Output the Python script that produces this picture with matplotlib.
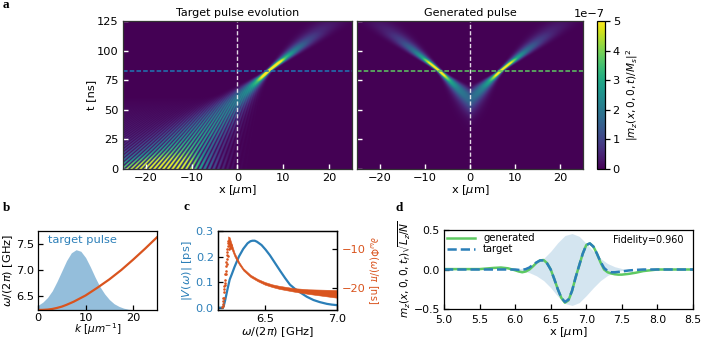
import numpy as np
import matplotlib
matplotlib.use("Agg")
import matplotlib.pyplot as plt

plt.rcParams.update({'font.family': 'DejaVu Sans', 'font.size': 8.2, 'mathtext.fontset': 'dejavusans',
                     'axes.linewidth': 0.9})

W, H = 702, 341
BLUE = '#2b7fb8'
ORANGE = '#d9541e'
GREEN = '#5ec962'

focus_x, focus_t = 6.8, 83.0
row_t = [0, 5, 10, 15, 25, 40, 50, 60, 68, 74, 78, 81, 83, 86, 90, 94, 100, 108, 116, 125]
row_peak = [6.8, 6.0, 4.6, 3.6, 3.0, 2.7, 2.5, 2.4, 2.7, 3.6, 5.5, 8.0, 9.0, 8.0, 6.0, 3.6, 2.2, 1.2, 0.6, 0.25]
row_contrast = [1.0, 1.0, 0.95, 0.95, 0.9, 0.8, 0.65, 0.35, 0.15, 0, 0, 0, 0, 0, 0, 0, 0, 0, 0, 0]
row_gate = [0, 0, 0, 0, 0.02, 0.25, 0.6, 0.85, 0.95, 1, 1, 1, 1, 1, 1, 1, 1, 1, 1, 1]

# ---- panel b
k_values = [0, 1, 2, 3, 4, 5, 6, 7.5, 10, 12.5, 15, 17.5, 20, 22.5, 25]
omega_values = [6.23, 6.232, 6.238, 6.25, 6.27, 6.295, 6.33, 6.39, 6.51, 6.66, 6.82, 7.00, 7.20, 7.41, 7.63]
pulse_k = [0, 1, 2, 3, 4, 5, 6, 7, 8, 9, 10, 11, 12, 13, 14, 15, 16, 17, 18, 19, 20, 21]
pulse_top = [6.32, 6.38, 6.47, 6.60, 6.78, 6.98, 7.18, 7.33, 7.39, 7.36, 7.24, 7.06, 6.86, 6.68, 6.54, 6.43, 6.35, 6.30, 6.265, 6.245, 6.235, 6.23]
pulse_base = 6.23

# ---- panel c
spectrum_w = [6.175, 6.205, 6.214, 6.225, 6.24, 6.256, 6.27, 6.29, 6.32, 6.35, 6.38, 6.40, 6.414, 6.43, 6.445, 6.46, 6.477, 6.505, 6.535, 6.57, 6.605, 6.64, 6.674, 6.71, 6.744, 6.79, 6.837, 6.88, 6.93, 6.965, 7.0]
spectrum_v = [0.0, 0.0, 0.005, 0.03, 0.07, 0.11, 0.13, 0.16, 0.20, 0.23, 0.252, 0.260, 0.262, 0.262, 0.258, 0.252, 0.245, 0.227, 0.205, 0.175, 0.145, 0.116, 0.09, 0.073, 0.06, 0.043, 0.03, 0.022, 0.015, 0.012, 0.01]
phase_dots_w = [6.205, 6.208, 6.21, 6.212, 6.215, 6.217, 6.22, 6.222, 6.224, 6.226, 6.228, 6.23, 6.232, 6.234, 6.236, 6.238, 6.24, 6.242, 6.244, 6.246, 6.212, 6.218, 6.225, 6.231, 6.237, 6.243, 6.25, 6.255, 6.26, 6.265]
phase_dots_p = [-25.0, -24.2, -23.5, -22.6, -21.2, -20.4, -19.6, -18.8, -18.0, -16.5, -15.5, -14.4, -13.2, -12.6, -11.4, -10.6, -10.0, -9.2, -8.4, -7.8, -24.8, -22.8, -19.4, -16.4, -13.8, -11.6, -10.0, -9.2, -9.6, -8.8]
phase_w = [6.245, 6.255, 6.27, 6.29, 6.32, 6.35, 6.40, 6.45, 6.50, 6.55, 6.60, 6.70, 6.80, 6.90, 7.0]
phase_hi = [-6.6, -6.8, -8.6, -10.9, -13.2, -14.9, -16.6, -17.7, -18.5, -19.1, -19.5, -20.1, -20.4, -20.5, -20.6]
phase_lo = [-8.6, -9.4, -10.0, -11.9, -13.9, -15.5, -17.2, -18.3, -19.2, -19.8, -20.3, -21.0, -21.6, -22.1, -22.6]

# ---- panel d
d_x = [5.0, 5.5, 5.7, 5.8, 5.9, 6.0, 6.05, 6.1, 6.15, 6.2, 6.25, 6.3, 6.35, 6.4, 6.45, 6.5, 6.55, 6.6, 6.65, 6.7, 6.75, 6.8, 6.85, 6.9, 6.95, 7.0, 7.05, 7.1, 7.15, 7.2, 7.25, 7.3, 7.35, 7.4, 7.45, 7.5, 7.6, 7.7, 7.8, 7.9, 8.0, 8.5]
d_target = [0.0, 0.0, 0.0, 0.0, 0.0, 0.0, -0.005, -0.005, 0.005, 0.025, 0.06, 0.09, 0.115, 0.115, 0.075, 0.0, -0.12, -0.25, -0.36, -0.41, -0.38, -0.27, -0.10, 0.05, 0.20, 0.31, 0.33, 0.29, 0.20, 0.10, 0.02, -0.02, -0.035, -0.035, -0.03, -0.025, -0.012, -0.005, 0.0, 0.0, 0.0, 0.0]
d_generated = [0.005, 0.005, 0.02, 0.025, 0.015, -0.01, -0.025, -0.035, -0.025, 0.0, 0.04, 0.085, 0.115, 0.12, 0.08, 0.0, -0.12, -0.25, -0.36, -0.42, -0.39, -0.27, -0.10, 0.05, 0.20, 0.31, 0.33, 0.29, 0.20, 0.09, 0.0, -0.035, -0.05, -0.06, -0.065, -0.065, -0.055, -0.04, -0.02, -0.01, 0.0, 0.0]
env_x = [5.9, 6.0, 6.1, 6.2, 6.3, 6.4, 6.5, 6.6, 6.7, 6.8, 6.9, 7.0, 7.1, 7.2, 7.3, 7.4, 7.5, 7.6]
env_y = [0.0, 0.005, 0.015, 0.04, 0.08, 0.14, 0.23, 0.34, 0.43, 0.455, 0.42, 0.33, 0.23, 0.14, 0.075, 0.035, 0.012, 0.0]


def box(l, t, r, b):
    return [l / W, 1 - b / H, (r - l) / W, (b - t) / H]


def field(x, t, fringes):
    dt = t - focus_t
    center = focus_x + np.where(dt < 0, 0.262, 0.325) * dt
    spread_l = np.where(dt < 0, 0.10, 0.058) * np.abs(dt)
    spread_r = np.where(dt < 0, 0.062, 0.058) * np.abs(dt)
    xi = x - center
    w = np.sqrt(np.where(xi < 0, spread_l, spread_r) ** 2 + 0.35 ** 2)
    img = np.interp(t, row_t, row_peak) * np.exp(-0.5 * (xi / w) ** 2)
    haze = 0.9 * np.clip(1 - t / 62, 0, 1) * (xi < 0) * np.clip(-xi / 6, 0, 1)
    img = img + haze
    if fringes:
        c = np.interp(t, row_t, row_contrast)
        phase = np.pi * (x - focus_x) / (112.0 - t) * 112.0
        img = img * (1 - c + c * 1.1 * np.cos(phase) ** 2)
    return img


xs = np.linspace(-25, 25, 916)
ts = np.linspace(0, 125, 592)
X, T = np.meshgrid(xs, ts)
target = field(X, T, True)
generated = field(np.abs(X), T, False) * np.interp(T, row_t, row_gate) * 0.85

fig = plt.figure(figsize=(W / 100, H / 100), dpi=100)

ax1 = fig.add_axes(box(123, 21, 352, 169))
ax2 = fig.add_axes(box(357, 21, 583, 169))
for ax, data, title, hc in ((ax1, target, 'Target pulse evolution', '#1f77b4'), (ax2, generated, 'Generated pulse', GREEN)):
    im = ax.imshow(data * 1e-7, origin='lower', extent=[-25, 25, 0, 125], aspect='auto',
                   cmap='viridis', vmin=0, vmax=5e-7, interpolation='antialiased')
    ax.axvline(0, color='white', ls=(0, (3, 1.6)), lw=1.0, alpha=0.85)
    ax.axhline(83, color=hc, ls=(0, (3, 1.4)), lw=1.1)
    ax.set_xticks([-20, -10, 0, 10, 20])
    ax.set_yticks([0, 25, 50, 75, 100, 125])
    ax.tick_params(direction='in', color='white', length=3.5, width=1, pad=3)
    ax.set_xlabel(r'x [$\mu$m]', labelpad=0)
    ax.set_title(title, fontsize=8.0, pad=3.5)
    for s in ax.spines.values():
        s.set_color('#333333')
ax1.set_ylabel('t [ns]', labelpad=1)
ax2.tick_params(labelleft=False)

cax = fig.add_axes(box(597, 21, 605, 169))
cb = fig.colorbar(im, cax=cax)
cb.set_ticks(np.arange(0, 6) * 1e-7)
cb.ax.tick_params(length=3.5, width=0.9, pad=2)
cb.set_label(r'$|m_z(x,0,0,t)/M_s|^2$', fontsize=7.6, labelpad=3)
cb.ax.yaxis.get_offset_text().set_fontsize(8.2)

axb = fig.add_axes(box(38, 231, 157, 310))
axb.fill_between(pulse_k, pulse_base, pulse_top, color=BLUE, alpha=0.5, lw=0)
axb.plot(k_values, omega_values, color=ORANGE, lw=1.6)
axb.set_xlim(0, 25)
axb.set_ylim(6.23, 7.75)
axb.set_xticks([0, 10, 20])
axb.set_yticks([6.5, 7.0, 7.5])
axb.tick_params(direction='in', length=3.5, width=0.9, pad=3)
axb.tick_params(axis='x', pad=2)
axb.set_xlabel(r'$k$ [$\mu m^{-1}$]', labelpad=-1, fontsize=7.6)
axb.set_ylabel(r'$\omega/(2\pi)$ [GHz]', labelpad=0.5)
axb.text(2.0, 7.57, 'target pulse', color=BLUE, fontsize=8.2, va='center')

axc = fig.add_axes(box(218, 231, 337, 310))
axc.plot(spectrum_w, spectrum_v, color=BLUE, lw=1.6)
axc.set_xlim(6.175, 7.0)
axc.set_ylim(-0.009, 0.3)
axc.set_xticks([6.5, 7.0])
axc.set_yticks([0.0, 0.1, 0.2, 0.3])
axc.tick_params(direction='in', length=3.5, width=0.9, pad=3)
axc.tick_params(axis='y', labelcolor=BLUE)
axc.set_xlabel(r'$\omega/(2\pi)$ [GHz]', labelpad=0.5)
axc.set_ylabel(r'$|V(\omega)|$ [ps]', color=BLUE, labelpad=1)
axr = axc.twinx()
axr.scatter(phase_dots_w, phase_dots_p, s=3.5, color=ORANGE, lw=0)
axr.fill_between(phase_w, phase_lo, phase_hi, color=ORANGE, lw=0.4)
axr.set_ylim(-25.8, -5.2)
axr.set_yticks([-10, -20])
axr.tick_params(direction='in', length=3.5, width=0.9, pad=3.5, labelcolor=ORANGE)
axr.set_ylabel(r'$\partial_\omega\Phi(\omega)/\pi$ [ns]', color=ORANGE, rotation=270, labelpad=10, fontsize=7.2)

axd = fig.add_axes(box(444, 230, 693, 309))
axd.fill_between(env_x, -np.array(env_y), env_y, color=BLUE, alpha=0.2, lw=0)
axd.plot(d_x, d_generated, color=GREEN, lw=1.8, label='generated')
axd.plot(d_x, d_target, color=BLUE, lw=1.8, ls='--', label='target')
axd.set_xlim(5, 8.5)
axd.set_ylim(-0.5, 0.5)
axd.set_xticks(np.arange(5, 8.75, 0.5))
axd.set_yticks([-0.5, 0, 0.5])
axd.tick_params(direction='in', length=3.5, width=0.9, pad=3, labelsize=7.8)
axd.tick_params(axis='x', pad=4)
axd.set_xlabel(r'x [$\mu$m]', labelpad=0)
axd.set_ylabel(r'$m_z(x,0,0,t_f)\sqrt{L_z/N}$', labelpad=0, fontsize=7.6)
axd.legend(loc='upper left', frameon=False, fontsize=7.2, borderaxespad=0.1, labelspacing=0.15, handlelength=2.8, borderpad=0.2)
axd.text(0.96, 0.87, 'Fidelity=0.960', transform=axd.transAxes, ha='right', va='center', fontsize=7.0)

for label, (px, py) in {'a': (3, 5), 'b': (3, 208), 'c': (183, 207), 'd': (396, 208)}.items():
    fig.text(px / W, 1 - py / H, label, family='Liberation Serif', weight='bold', fontsize=9.5, va='center')

fig.savefig('out.png', dpi=100)
